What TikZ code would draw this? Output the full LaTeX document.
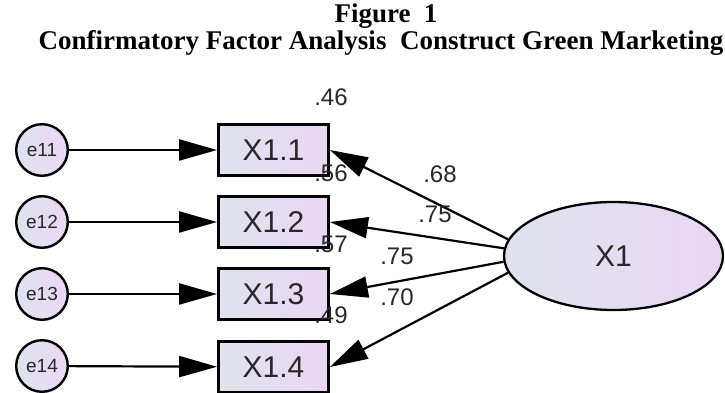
\documentclass[tikz,border=0pt]{standalone}
\usepackage{fontspec}
\newfontfamily\arialf{Liberation Sans}
\newfontfamily\tnrf{Liberation Serif}
\usetikzlibrary{shapes.geometric,arrows.meta}
\definecolor{fillL}{RGB}{222,227,238}
\definecolor{fillR}{RGB}{235,215,243}
\definecolor{ink}{RGB}{40,40,40}
\begin{document}
\begin{tikzpicture}[x=1pt,y=1pt,
  errc/.style={circle, draw=black, line width=2.4pt, left color=fillL, right color=fillR,
    minimum size=51.6pt, inner sep=0pt, font=\arialf\fontsize{19}{22}\selectfont, text=ink},
  obs/.style={rectangle, draw=black, line width=2.8pt, left color=fillL, right color=fillR,
    minimum width=110pt, minimum height=51pt, inner sep=0pt, font=\arialf\fontsize{30}{34}\selectfont, text=ink},
  lat/.style={ellipse, draw=black, line width=2.3pt, left color=fillL, right color=fillR,
    minimum width=219pt, minimum height=108pt, inner sep=0pt, font=\arialf\fontsize{30}{34}\selectfont, text=ink},
  arr/.style={line width=2.2pt, -{Triangle[length=38pt,width=21pt]}},
  lbl/.style={font=\arialf\fontsize{24}{28}\selectfont, text=ink, inner sep=0pt},
  ttl/.style={font=\tnrf\bfseries\fontsize{27}{30}\selectfont, inner sep=0pt, anchor=base}
]
\clip (0,0) rectangle (725,392);
\fill[white] (0,0) rectangle (725,392);

% titles
\node[ttl] (fig) at (386,369) {Figure\ \ 1};
\node[ttl] (title) at (381,343) {Confirmatory Factor Analysis\ \ Construct Green Marketing};

% error terms
\node[errc] (e11) at (42,242) {e11};
\node[errc] (e12) at (42,170) {e12};
\node[errc] (e13) at (42,98) {e13};
\node[errc] (e14) at (42,26) {e14};

% observed variables
\node[obs] (b1) at (273.5,242) {X1.1};
\node[obs] (b2) at (273.5,170) {X1.2};
\node[obs] (b3) at (273.5,98) {X1.3};
\node[obs] (b4) at (273.5,25) {X1.4};

% latent
\node[lat] (X1) at (613.5,136) {X1};

% arrows
\draw[arr] (e11) -- (b1);
\draw[arr] (e12) -- (b2);
\draw[arr] (e13) -- (b3);
\draw[arr] (e14) -- (b4);
\draw[arr] (X1.171) -- (b1.east);
\draw[arr] (X1.176) -- (b2.east);
\draw[arr] (X1.183) -- (b3.east);
\draw[arr] (X1.189) -- (b4.east);

% labels
\node[lbl] (r1) at (331,295) {.46};
\node[lbl] (r2) at (331,219) {.56};
\node[lbl] (r3) at (331,148) {.57};
\node[lbl] (r4) at (331,77) {.49};
\node[lbl] (l1) at (440,218) {.68};
\node[lbl] (l2) at (435,178) {.75};
\node[lbl] (l3) at (397,136) {.75};
\node[lbl] (l4) at (397,95) {.70};
\end{tikzpicture}
\end{document}
